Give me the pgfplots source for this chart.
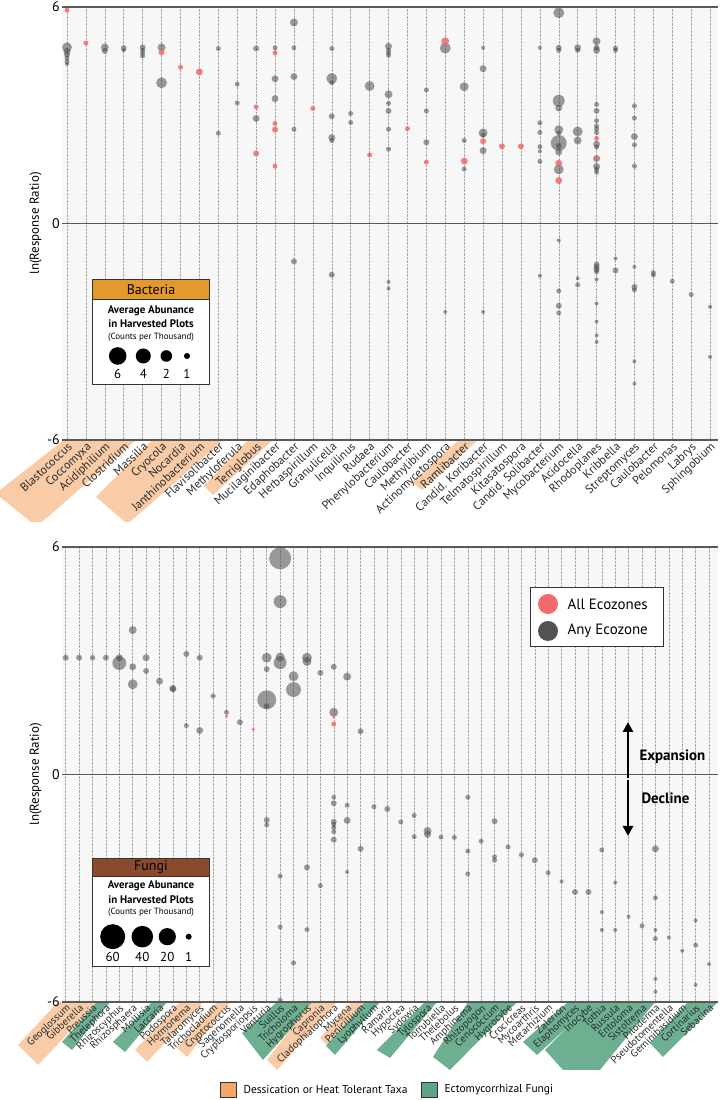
\documentclass[border=0pt]{standalone}
\usepackage{fontspec}
\setmainfont{PT Sans}
\usepackage{pgfplots}
\usepackage{pgfplotstable}
\pgfplotsset{compat=1.18}
\usetikzlibrary{arrows.meta}
\definecolor{ptgrey}{HTML}{4A4A4A}
\definecolor{ptred}{HTML}{F26B6B}
\definecolor{hlorange}{HTML}{F9CBA6}
\definecolor{hlgreen}{HTML}{6DAF91}
\definecolor{bacthead}{HTML}{E3992B}
\definecolor{fungihead}{HTML}{8A4B2C}
\definecolor{lbl}{HTML}{2B2B2B}
\definecolor{legor}{HTML}{F4A668}
\definecolor{leggr}{HTML}{5FA585}

\pgfplotstableread{
x y d
1 4.88 10
1 4.77 7
1 4.68 6
1 4.59 5
1 4.49 5
1 4.42 4
3 4.88 8
3 4.78 6
4 4.86 6
4 4.80 4
5 4.88 6
5 4.80 5
5 4.72 5
5 4.64 5
6 4.88 8
6 3.90 11
9 4.85 5
9 2.50 5
10 3.86 5
10 3.34 5
11 4.85 6
11 2.91 7
12 4.87 5
12 4.01 7
12 3.46 7
13 5.57 8
13 4.87 5
13 4.07 7
13 2.61 5
13 -1.05 6
15 4.85 5
15 4.02 11
15 3.90 5
15 2.97 6
15 2.38 7
15 2.30 5
15 -1.42 6
16 3.05 5
16 2.80 5
17 3.81 10
18 4.91 7
18 4.80 5
18 4.73 5
18 4.66 5
18 3.58 8
18 3.33 5
18 3.12 6
18 2.61 5
18 2.06 5
18 -1.62 4
18 -1.80 4
20 3.70 5
20 3.12 5
20 2.25 6
21 4.86 11
21 -2.45 4
22 3.79 9
22 2.30 5
22 1.51 5
23 4.87 4
23 4.29 7
23 2.51 9
23 2.45 5
23 2.02 7
23 -2.45 4
26 4.87 4
26 2.79 5
26 2.52 5
26 2.13 5
26 2.00 4
26 1.72 5
26 -1.45 4
27 5.84 11
27 4.87 6
27 4.80 5
27 3.40 12
27 3.20 7
27 2.60 9
27 2.50 5
27 2.23 16
27 2.15 6
27 1.98 7
27 1.50 10
27 -0.47 4
27 -1.87 5
27 -2.28 6
27 -2.48 5
28 4.87 7
28 4.80 5
28 2.55 10
28 2.30 8
28 -1.52 4
28 -1.70 5
29 5.05 8
29 4.87 6
29 4.80 7
29 3.30 5
29 3.12 6
29 2.85 5
29 2.70 5
29 2.62 5
29 2.52 5
29 2.20 7
29 2.12 5
29 1.80 7
29 1.58 7
29 1.50 5
29 1.42 5
29 -1.14 6
29 -1.21 6
29 -1.28 6
29 -1.34 5
29 -1.55 4
29 -2.22 4
29 -2.72 4
29 -3.10 4
29 -3.28 4
30 4.86 5
30 4.80 5
30 -0.97 4
30 -1.30 6
31 3.26 5
31 2.92 5
31 2.41 7
31 2.18 5
31 1.59 5
31 -1.20 4
31 -1.76 6
31 -1.84 5
31 -3.82 4
31 -4.44 4
32 -1.36 5
32 -1.43 5
33 -1.60 5
34 -1.97 5
35 -2.31 4
35 -3.70 4
}\topgrey

\pgfplotstableread{
x y d
1 5.91 5
2 5.00 5
6 4.74 6
7 4.33 5
8 4.20 7
11 3.23 5
11 1.94 6
12 4.73 5
12 2.77 5
12 2.60 6
12 1.59 5
14 3.19 5
17 1.90 5
19 2.63 5
20 1.70 5
21 5.05 8
22 1.73 7
23 2.28 6
24 2.14 6
25 2.14 6
27 1.67 7
27 1.19 7
29 2.36 5
29 1.80 5
}\topred

\pgfplotstableread{
x y d
1 3.08 6
2 3.08 6
3 3.08 5.5
4 3.08 6
5 3.08 7
5 2.94 14
6 3.81 8
6 2.84 7
6 2.38 10
7 3.08 7
7 2.73 6
8 2.46 7
9 2.27 7
9 2.25 6
10 3.18 6
10 1.29 5
11 3.08 6
11 1.16 7
12 2.07 5
13 1.64 5
14 1.38 6
16 3.08 10
16 2.78 6
16 1.97 19
16 1.80 6
16 -1.20 6
16 -1.33 5
17 5.70 22
17 4.56 13
17 3.10 9
17 2.95 13
17 -2.68 5
17 -4.02 5
17 -5.95 5
18 2.59 10
18 2.24 15
18 -4.97 5
19 3.08 10
19 2.98 9
19 -2.45 6
19 -4.09 5
20 2.68 6
20 -2.93 5
21 2.84 6
21 1.64 9
21 -0.60 5
21 -0.76 6
21 -1.25 6
21 -1.32 5
21 -1.40 5
21 -1.51 5
21 -1.72 6
22 2.58 8
22 -0.81 5
22 -1.21 7
22 -2.57 4
23 1.14 6
23 -1.96 6
24 -0.85 5
25 -0.91 6
26 -1.25 5
27 -1.08 5
27 -1.64 5
28 -1.49 8
28 -1.58 7
29 -1.65 5
30 -1.66 5
31 -0.60 5
31 -2.02 5
31 -2.62 5
32 -1.76 5
33 -1.23 6
33 -2.17 5
33 -2.26 5
34 -1.91 5
35 -2.12 5
36 -2.26 6
37 -2.59 5
38 -2.82 4
39 -3.10 6
40 -3.10 6
41 -1.99 5
41 -3.63 4
41 -4.10 4
42 -2.85 4
42 -4.10 4
43 -3.75 4
44 -3.99 5
45 -1.96 7
45 -3.25 5
45 -4.10 4
45 -4.33 5
45 -5.39 4
45 -5.73 4
46 -4.30 4
47 -4.65 4
48 -3.85 4
48 -4.50 5
48 -5.55 4
49 -5.00 4
}\botgrey

\pgfplotstableread{
x y d
13 1.54 3.5
15 1.19 3.5
21 1.52 3.5
21 1.33 5
}\botred

\pgfplotsset{
  panel/.style={
    scale only axis, width=656bp,
    axis line style={draw=none},
    major tick length=0pt,
    ymin=-6, ymax=6, ytick={-6,0,6}, yticklabels={-6,0,6},
    yticklabel style={font=\fontsize{14}{14}\selectfont, text=black, inner sep=2bp},
    ymajorgrids, y grid style={draw=black!65, line width=1.3bp},
    xmajorgrids, x grid style={draw=black!35, densely dotted, line width=0.5bp},
    axis background/.style={fill=black!3},
    xticklabel style={rotate=43, anchor=north east, inner sep=1bp, text=lbl},
    ylabel={ln(Response Ratio)}, ylabel style={font=\fontsize{13}{13}\selectfont},
    clip=false,
  },
  bub/.style 2 args={scatter, only marks, mark=*, point meta=\thisrow{d},
    draw opacity=0, fill=#1, fill opacity=#2,
    scatter/use mapped color={draw opacity=0, fill=#1, fill opacity=#2},
    visualization depends on={0.5*\thisrow{d} \as \myrad},
    scatter/@pre marker code/.append style={/tikz/mark size=\myrad}},
}

\begin{document}
\begin{tikzpicture}[x=1bp,y=1bp]
\useasboundingbox (0,0) rectangle (723,1100);
\begin{scope}[shift={(0bp,1100bp)}, y=-1bp]
% label highlights, top panel
\fill[hlorange] (64,440)--(136,440)--(42,522)--(31,522)--(0,497)--(0,490)--cycle;
\fill[hlorange] (152,440)--(223,440)--(130,522)--(125,522)--(96,497)--cycle;
\fill[hlorange] (248,440)--(273,440)--(213,495)--(204,486)--cycle;
\fill[hlorange] (459,440)--(478,440)--(422,490)--(412,482)--cycle;
% label highlights, bottom panel
\fill[hlorange] (58,1002)--(98,1002)--(38,1065)--(18,1045)--cycle;
\fill[hlgreen] (97,1002)--(110,1002)--(72,1050)--(62,1042)--cycle;
\fill[hlgreen] (152,1002)--(167,1002)--(125,1052)--(113,1042)--cycle;
\fill[hlorange] (180,1002)--(203,1002)--(147,1062)--(135,1050)--cycle;
\fill[hlorange] (217,1002)--(230,1002)--(187,1057)--(177,1048)--cycle;
\fill[hlgreen] (277,1002)--(315,1002)--(263,1060)--(242,1033)--cycle;
\fill[hlorange] (312,1002)--(337,1002)--(277,1070)--(267,1060)--cycle;
\fill[hlorange] (352,1002)--(365,1002)--(327,1045)--(320,1038)--cycle;
\fill[hlgreen] (365,1002)--(380,1002)--(335,1055)--(326,1046)--cycle;
\fill[hlgreen] (425,1002)--(437,1002)--(390,1058)--(377,1050)--cycle;
\fill[hlgreen] (468,1002)--(517,1002)--(450,1070)--(433,1057)--cycle;
\fill[hlgreen] (568,1002)--(595,1002)--(537,1055)--(523,1042)--cycle;
\fill[hlgreen] (593,1002)--(655,1002)--(600,1070)--(563,1070)--(545,1050)--cycle;
\fill[hlgreen] (688,1002)--(718,1002)--(663,1057)--(650,1043)--cycle;
\end{scope}

\begin{axis}[panel, at={(62bp,660bp)}, anchor=south west, height=433bp,
  xmin=0.736, xmax=35.42, xtick={1,...,35},
  xticklabel style={font=\fontsize{12}{12}\selectfont},
  xticklabels={Blastococcus, Coccomyxa, Acidiphilium, Clostridium, Massilia, Cryocola, Nocardia, Janthinobacterium, Flavisolibacter, Methyloferula, Terriglobus, Mucilaginibacter, Edaphobacter, Herbaspirillum, Granulicella, Inquilinus, Rudaea, Phenylobacterium, Caulobacter, Methylibium, Actinomycetospora, Ramlibacter, Candid. Koribacter, Telmatospirillum, Kitasatospora, Candid. Solibacter, Mycobacterium, Acidocella, Rhodoplanes, Kribbella, Streptomyces, Caulobacter, Pelomonas, Labrys, Sphingobium}]
\addplot[bub={ptgrey}{0.55}] table[x=x,y=y] {\topgrey};
\addplot[bub={ptred}{0.85}] table[x=x,y=y] {\topred};
\end{axis}

\begin{axis}[panel, at={(62bp,98bp)}, anchor=south west, height=455bp,
  xmin=0.724, xmax=49.67, xtick={1,...,49},
  xticklabel style={font=\fontsize{10.5}{10.5}\selectfont},
  xticklabels={Geoglossum, Gibberella, Preussia, Thelephora, Rhizoscyphus, Rhizosphaera, Mollisia, Laccaria, Podospora, Hormonema, Talaromyces, Trichocladium, Cryptococcus, Sagenomella, Cryptosporiopsis, Venturia, Suillus, Tricholoma, Hygrophorus, Capronia, Cladophialophora, Mycena, Penicillium, Lyophyllum, Ramaria, Hypocrea, Sydowia, Tylospora, Torrubiella, Thelebolus, Amphinema, Rhizopogon, Cenococcum, Hygrocybe, Crocicreas, Mycoarthris, Metarhizium, Zalerion, Elaphomyces, Inocybe, Tothia, Russula, Entoloma, Sistotrema, Piloderma, Pseudotomentella, Geminibasidium, Cortinarius, Sebacina}]
\addplot[bub={ptgrey}{0.55}] table[x=x,y=y] {\botgrey};
\addplot[bub={ptred}{0.85}] table[x=x,y=y] {\botred};
\end{axis}

\begin{scope}[shift={(0bp,1100bp)}, y=-1bp]
% Bacteria legend
\draw[black!80, line width=1bp, fill=white] (92.3,280) rectangle (209.7,384.3);
\fill[bacthead] (92.8,280.5) rectangle (209.2,299.3);
\draw[black!80, line width=0.8bp] (92.3,299.3) -- (209.7,299.3);
\node at (151,290) {\fontsize{14}{14}\selectfont Bacteria};
\node at (151,310.5) {\fontsize{11}{11}\selectfont\bfseries Average Abunance};
\node at (151,323.7) {\fontsize{11}{11}\selectfont\bfseries in Harvested Plots};
\node at (151,337) {\fontsize{9}{9}\selectfont (Counts per Thousand)};
\fill (117.7,356) circle (8.8bp);
\fill (143.3,356) circle (7.5bp);
\fill (166.3,356) circle (5.8bp);
\fill (187,356) circle (3bp);
\node at (117.7,374) {\fontsize{13}{13}\selectfont 6};
\node at (143.3,374) {\fontsize{13}{13}\selectfont 4};
\node at (166.3,374) {\fontsize{13}{13}\selectfont 2};
\node at (187,374) {\fontsize{13}{13}\selectfont 1};
% Fungi legend
\draw[black!80, line width=1bp, fill=white] (92.3,858.3) rectangle (209.7,967);
\fill[fungihead] (92.8,858.8) rectangle (209.2,876.7);
\draw[black!80, line width=0.8bp] (92.3,876.7) -- (209.7,876.7);
\node at (151,867.5) {\fontsize{14}{14}\selectfont Fungi};
\node at (151,885.5) {\fontsize{11}{11}\selectfont\bfseries Average Abunance};
\node at (151,900) {\fontsize{11}{11}\selectfont\bfseries in Harvested Plots};
\node at (151,912) {\fontsize{9}{9}\selectfont (Counts per Thousand)};
\fill (112.7,936.7) circle (12.5bp);
\fill (142.3,936.7) circle (10.8bp);
\fill (167.3,936.7) circle (8.6bp);
\fill (188.7,936.7) circle (3bp);
\node at (112.7,957) {\fontsize{13}{13}\selectfont 60};
\node at (142.3,957) {\fontsize{13}{13}\selectfont 40};
\node at (167.3,957) {\fontsize{13}{13}\selectfont 20};
\node at (188.7,957) {\fontsize{13}{13}\selectfont 1};
% Ecozone legend
\draw[black!80, line width=1bp, fill=white] (530.7,588) rectangle (663,646.7);
\fill[ptred] (548,604) circle (10bp);
\fill[black!68] (548,631) circle (10bp);
\node[anchor=west] at (564,604) {\fontsize{15}{15}\selectfont All Ecozones};
\node[anchor=west] at (564,631) {\fontsize{15}{15}\selectfont Any Ecozone};
% arrows
\draw[line width=2.6bp, -{Triangle[length=10bp,width=10bp]}] (628,778) -- (628,722);
\draw[line width=2.6bp, -{Triangle[length=10bp,width=10bp]}] (628,780) -- (628,836);
\node[anchor=west] at (636,757) {\fontsize{15}{15}\selectfont\bfseries Expansion};
\node[anchor=west] at (638,798) {\fontsize{15}{15}\selectfont\bfseries Decline};
% bottom legend
\draw[black!80, line width=0.8bp, fill=legor] (220,1082) rectangle (236,1097);
\node[anchor=west] at (240,1089.5) {\fontsize{11.5}{11.5}\selectfont Dessication or Heat Tolerant Taxa};
\draw[black!80, line width=0.8bp, fill=leggr] (421,1082) rectangle (437,1097);
\node[anchor=west] at (441,1089.5) {\fontsize{11.5}{11.5}\selectfont Ectomycorrhizal Fungi};
\end{scope}
\end{tikzpicture}
\end{document}
